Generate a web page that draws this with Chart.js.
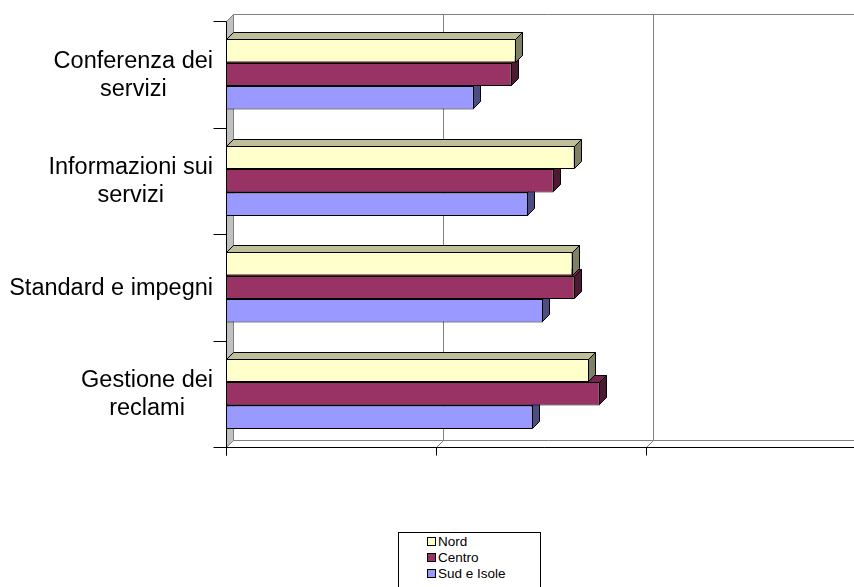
<!DOCTYPE html>
<html>
<head>
<meta charset="utf-8">
<script src="https://cdn.jsdelivr.net/npm/chart.js@4"></script>
<style>
  body { margin: 0; background: #fff; overflow: hidden; font-family: "Liberation Sans", Arial, sans-serif; }
  #wrap { position: relative; width: 854px; height: 587px; overflow: hidden; }
  #legend { position: absolute; left: 398px; top: 532px; width: 143px; height: 70px; padding-top: 1px;
            border: 1px solid #000; box-sizing: border-box; background: #fff; }
  .row { height: 16px; line-height: 16px; font-size: 13.5px; padding-left: 28px; white-space: nowrap; }
  .sw { display: inline-block; width: 7px; height: 7px; border: 1px solid #000; margin-right: 2px; vertical-align: 0px; }
</style>
</head>
<body>
<div id="wrap">
  <canvas id="chart" width="870" height="587"></canvas>
  <div id="legend"></div>
</div>
<script>
// data
const categories = [['Conferenza dei', 'servizi'], ['Informazioni sui', 'servizi'], ['Standard e impegni'], ['Gestione dei', 'reclami']];
const seriesNames = ['Nord', 'Centro', 'Sud e Isole'];
const nordValues = [1.38, 1.66, 1.65, 1.73];
const centroValues = [1.36, 1.56, 1.66, 1.78];
const sudValues = [1.18, 1.44, 1.51, 1.46];
const gridTicks = [0, 1, 2, 3];
const seriesColors = ['#FFFFCC', '#993366', '#9999FF'];

const DEPTH = 7;

function shade(hex, f) {
  const n = parseInt(hex.slice(1), 16);
  const r = Math.round(((n >> 16) & 255) * f), g = Math.round(((n >> 8) & 255) * f), b = Math.round((n & 255) * f);
  return `rgb(${r},${g},${b})`;
}

function poly(ctx, pts, fill, stroke) {
  ctx.beginPath();
  ctx.moveTo(pts[0][0], pts[0][1]);
  for (let i = 1; i < pts.length; i++) ctx.lineTo(pts[i][0], pts[i][1]);
  ctx.closePath();
  if (fill) { ctx.fillStyle = fill; ctx.fill(); }
  if (stroke) { ctx.strokeStyle = stroke; ctx.stroke(); }
}

function line(ctx, x1, y1, x2, y2, color) {
  ctx.beginPath();
  ctx.moveTo(x1, y1);
  ctx.lineTo(x2, y2);
  ctx.strokeStyle = color;
  ctx.stroke();
}

// walls, grid, axes and category labels, drawn under the bars
const box3d = {
  id: 'box3d',
  beforeDatasetsDraw(chart) {
    const ctx = chart.ctx, a = chart.chartArea, xs = chart.scales.x, d = DEPTH;
    const L = Math.round(a.left) + 0.5, T = Math.round(a.top) + 0.5, B = Math.round(a.bottom) + 0.5, R = a.right;
    ctx.save();
    ctx.lineWidth = 1;

    // left side wall
    poly(ctx, [[L, T], [L + d, T - d], [L + d, B - d], [L, B]], '#c0c0c0', '#808080');
    // floor
    poly(ctx, [[L, B], [L + d, B - d], [R + d, B - d], [R, B]], '#fff', '#808080');
    // back top edge
    line(ctx, L + d, T - d, R + d, T - d, '#808080');
    // back gridlines and floor lines
    gridTicks.forEach(v => {
      const px = Math.round(xs.getPixelForValue(v)) + 0.5;
      if (v > 0) line(ctx, px + d, T - d, px + d, B - d, '#808080');
      line(ctx, px, B, px + d, B - d, '#808080');
    });

    // front axes
    line(ctx, L - 9, B, R + d + 20, B, '#000');
    line(ctx, L, T, L, B + 8, '#000');
    gridTicks.forEach(v => {
      const px = Math.round(xs.getPixelForValue(v)) + 0.5;
      line(ctx, px, B, px, B + 8, '#000');
    });
    const n = categories.length;
    for (let i = 0; i <= n; i++) {
      const y = Math.round(a.top + i * (a.bottom - a.top) / n) + 0.5;
      line(ctx, L - 13, y, L, y, '#000');
    }

    // category labels, lines centred within a right-aligned block
    ctx.font = '23.5px "Liberation Sans", Arial, sans-serif';
    ctx.fillStyle = '#000';
    ctx.textAlign = 'center';
    ctx.textBaseline = 'middle';
    const ys = chart.scales.y;
    categories.forEach((lines, i) => {
      const cy = ys.getPixelForValue(i) + 1;
      const w = Math.max(...lines.map(t => ctx.measureText(t).width));
      const cx = a.left - 13 - w / 2;
      lines.forEach((t, j) => ctx.fillText(t, cx, cy + (j - (lines.length - 1) / 2) * 28));
    });
    ctx.restore();
  },
  // top and side faces for the bars of each dataset
  afterDatasetDraw(chart, args) {
    const ctx = chart.ctx, d = DEPTH;
    const color = chart.data.datasets[args.index].backgroundColor;
    ctx.save();
    ctx.lineWidth = 1;
    ctx.lineJoin = 'round';
    args.meta.data.forEach(bar => {
      const p = bar.getProps(['x', 'y', 'base', 'height'], true);
      const top = Math.round(p.y - p.height / 2) + 0.5, bot = Math.round(p.y + p.height / 2) - 0.5;
      const x = Math.round(p.x) - 0.5, b = Math.round(p.base) + 0.5;
      poly(ctx, [[b, top], [b + d, top - d], [x + d, top - d], [x, top]], shade(color, 0.75), '#000');
      poly(ctx, [[x, top], [x + d, top - d], [x + d, bot - d], [x, bot]], shade(color, 0.5), '#000');
    });
    ctx.restore();
  }
};

new Chart(document.getElementById('chart'), {
  type: 'bar',
  data: {
    labels: categories,
    datasets: [nordValues, centroValues, sudValues].map((vals, i) => ({
      label: seriesNames[i],
      data: vals,
      backgroundColor: seriesColors[i],
      borderColor: '#000',
      borderWidth: 1,
      borderSkipped: false,
      categoryPercentage: 0.661,
      barPercentage: 1
    }))
  },
  options: {
    indexAxis: 'y',
    responsive: false,
    animation: false,
    layout: { padding: { top: 21, right: 14, left: 0, bottom: 0 } },
    plugins: { legend: { display: false }, tooltip: { enabled: false } },
    scales: {
      x: {
        min: 0, max: 3,
        grid: { display: false }, border: { display: false }, ticks: { display: false },
        afterFit(s) { s.height = 140; }
      },
      y: {
        grid: { display: false }, border: { display: false }, ticks: { display: false },
        afterFit(s) { s.width = 226; }
      }
    }
  },
  plugins: [box3d]
});

// legend box built from the same series arrays
document.getElementById('legend').innerHTML = seriesNames.map((name, i) =>
  `<div class="row"><span class="sw" style="background:${seriesColors[i]}"></span>${name}</div>`).join('');
</script>
</body>
</html>
